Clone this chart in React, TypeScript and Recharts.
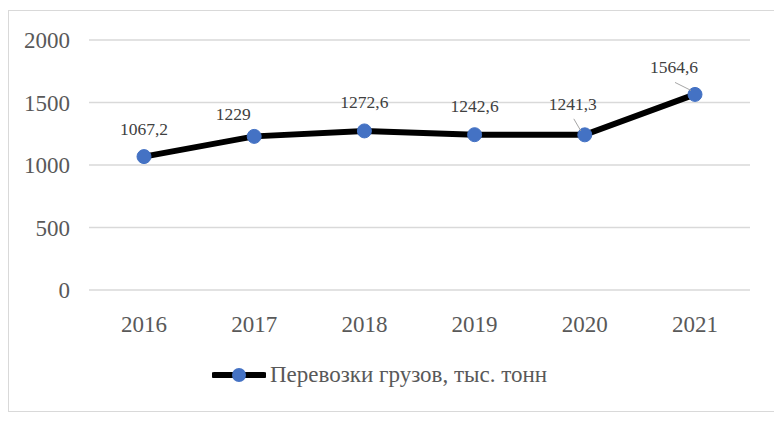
import React from 'react';
import { LineChart, Line, XAxis, YAxis, CartesianGrid, Legend, LabelList } from 'recharts';

const years = ['2016', '2017', '2018', '2019', '2020', '2021'];
const cargo = [1067.2, 1229, 1272.6, 1242.6, 1241.3, 1564.6];
const cargoLabels = ['1067,2', '1229', '1272,6', '1242,6', '1241,3', '1564,6'];
const yTicks = [0, 500, 1000, 1500, 2000];
const seriesName = 'Перевозки грузов, тыс. тонн';

const data = years.map((year, i) => ({ year, value: cargo[i], label: cargoLabels[i] }));

// label offsets relative to the point, as Excel placed them
const labelShift = [
  { dx: 0, dy: -28, leader: false },
  { dx: -21, dy: -22, leader: false },
  { dx: 0, dy: -29, leader: false },
  { dx: 0, dy: -29, leader: false },
  { dx: -12, dy: -31, leader: true },
  { dx: -21, dy: -27, leader: true },
];

const FONT = 'Liberation Serif';
const TEXT = '#595959';

const PointLabel = (props: any) => {
  const { x, y, index } = props;
  const s = labelShift[index];
  const tx = x + s.dx;
  const ty = y + s.dy;
  return (
    <g>
      {s.leader && (
        <line x1={tx + 1} y1={ty + 15} x2={x - 4} y2={y - 4} stroke="#a6a6a6" strokeWidth={1} />
      )}
      <text x={tx} y={ty} textAnchor="middle" dominantBaseline="central" fontSize={17.5} fontFamily={FONT} fill="#404040">
        {cargoLabels[index]}
      </text>
    </g>
  );
};

const LegendContent = () => (
  <div style={{ display: 'flex', justifyContent: 'center', alignItems: 'center', height: 30 }}>
    <svg width={54} height={16}>
      <line x1={2} y1={8} x2={52} y2={8} stroke="#000" strokeWidth={6} strokeLinecap="round" />
      <circle cx={27} cy={8} r={7} fill="#4472c4" />
    </svg>
    <span style={{ fontFamily: FONT, fontSize: 23, color: TEXT, marginLeft: 4 }}>{seriesName}</span>
  </div>
);

export default function App() {
  return (
    <div
      style={{
        width: 770,
        height: 402,
        marginTop: 2,
        border: '1px solid #d9d9d9',
        boxSizing: 'border-box',
        background: '#fff',
        fontFamily: FONT,
      }}
    >
      <LineChart width={768} height={400} data={data} margin={{ top: 29, right: 27, left: 0, bottom: 21 }}>
        <CartesianGrid vertical={false} stroke="#d9d9d9" strokeWidth={1.5} />
        <XAxis
          dataKey="year"
          axisLine={false}
          tickLine={false}
          height={70}
          tickMargin={20}
          padding={{ left: 55, right: 55 }}
          tick={{ fontSize: 23, fontFamily: FONT, fill: TEXT }}
        />
        <YAxis
          domain={[0, 2000]}
          ticks={yTicks}
          axisLine={false}
          tickLine={false}
          width={80}
          tickMargin={13}
          tick={{ fontSize: 23, fontFamily: FONT, fill: TEXT }}
        />
        <Legend verticalAlign="bottom" content={<LegendContent />} />
        <Line
          type="linear"
          dataKey="value"
          name={seriesName}
          stroke="#000"
          strokeWidth={6}
          dot={{ r: 7, fill: '#4472c4', stroke: '#4472c4', strokeWidth: 1 }}
          isAnimationActive={false}
        >
          <LabelList dataKey="label" content={<PointLabel />} />
        </Line>
      </LineChart>
    </div>
  );
}
